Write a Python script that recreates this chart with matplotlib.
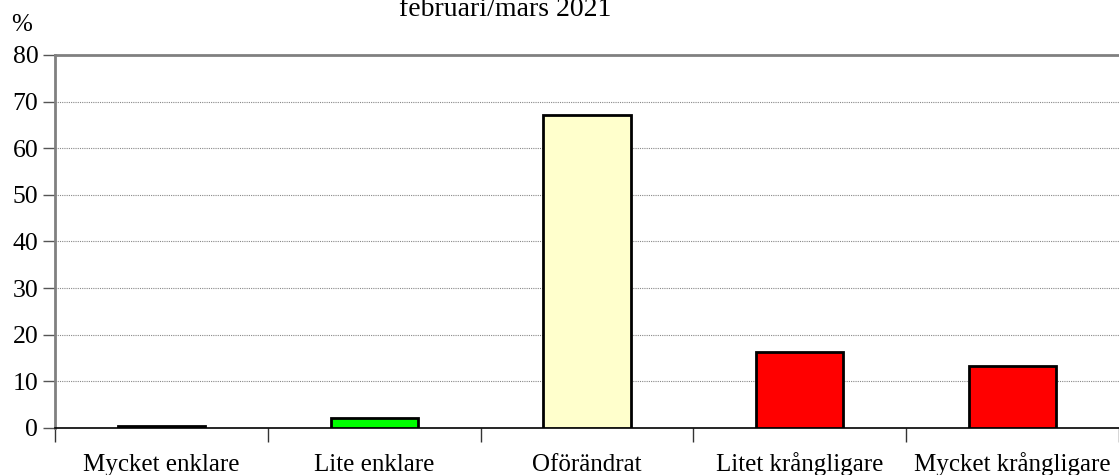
import matplotlib
matplotlib.use("Agg")
import matplotlib.pyplot as plt
import numpy as np

categories = ["Mycket enklare", "Lite enklare", "Oförändrat", "Litet krångligare", "Mycket krångligare"]
values = [0.4, 2.1, 67.2, 16.3, 13.3]
colors = ["#000000", "#00FF00", "#FFFFCC", "#FF0000", "#FF0000"]
yticks = [0, 10, 20, 30, 40, 50, 60, 70, 80]

plt.rcParams['font.family'] = ['Liberation Serif', 'DejaVu Serif']

fig = plt.figure(figsize=(11.19, 4.75), dpi=100)
ax = fig.add_axes([55/1119, 1-428/475, (1119-55)/1119, (428-55)/475])

x = np.arange(len(categories))
ax.bar(x, values, width=0.41, color=colors, edgecolor="black", linewidth=2, zorder=3)

ax.set_xlim(-0.5, len(categories) - 0.5)
ax.set_ylim(0, 80)
ax.set_yticks(yticks)
ax.set_yticklabels([str(t) for t in yticks], fontsize=18.5)
ax.tick_params(axis='y', length=9, width=1, color="#555555", pad=3)

ax.set_xticks(x)
ax.set_xticklabels(categories, fontsize=18)
for lab in ax.get_xticklabels():
    lab.set_verticalalignment('baseline')
ax.tick_params(axis='x', length=0, pad=31)
ax.set_xticks(np.arange(len(categories) + 1) - 0.5, minor=True)
ax.tick_params(axis='x', which='minor', length=10, width=1, color="#333333")

for t in yticks[1:-1]:
    ax.axhline(t, color="#888888", linestyle=(0, (1, 1)), linewidth=0.8, zorder=1)

ax.spines['top'].set_color("#808080")
ax.spines['top'].set_linewidth(2)
ax.spines['left'].set_color("#808080")
ax.spines['left'].set_linewidth(2)
ax.spines['right'].set_visible(False)
ax.spines['bottom'].set_color("black")
ax.spines['bottom'].set_linewidth(1.2)

fig.text(22/1119, 1-25/475, "%", fontsize=18, ha='center', va='center')
fig.text(505/1119, 1-10/475, "februari/mars 2021", fontsize=20, ha='center', va='center')

fig.savefig("out.png", dpi=100)
